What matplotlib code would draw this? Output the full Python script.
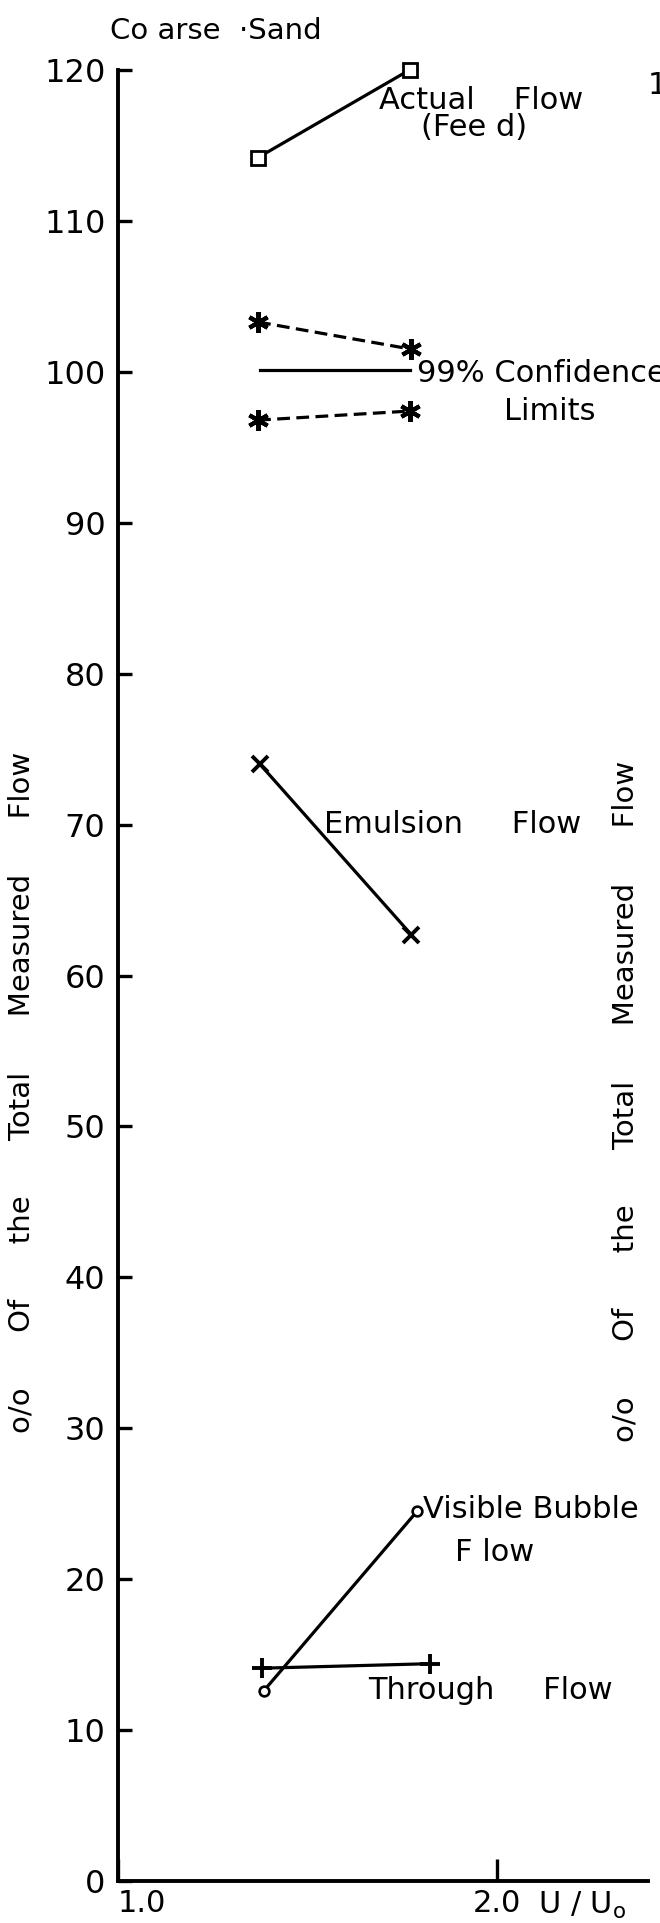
import matplotlib
matplotlib.use("Agg")
import matplotlib.pyplot as plt

plt.rcParams['font.family'] = ['DejaVu Sans']

# ---- data ----
actual_x = [1.37, 1.77]
actual_y = [114.2, 120.0]

cl_upper_x = [1.37, 1.775]
cl_upper_y = [103.3, 101.5]

mean_x = [1.375, 1.77]
mean_y = [100.1, 100.1]

cl_lower_x = [1.37, 1.77]
cl_lower_y = [96.8, 97.4]

emulsion_x = [1.375, 1.775]
emulsion_y = [74.0, 62.7]

bubble_x = [1.385, 1.79]
bubble_y = [12.6, 24.5]

through_x = [1.38, 1.825]
through_y = [14.1, 14.4]

y_ticks = [0, 10, 20, 30, 40, 50, 60, 70, 80, 90, 100, 110, 120]
y_tick_labels = ["0", "10", "20", "30", "40", "50", "60", "70", "80", "90", "100", "110", "120"]
x_ticks = [1.0, 2.0]
x_tick_labels = ["1.0", "2.0"]

W, H = 660, 1923
fig = plt.figure(figsize=(W / 100, H / 100), dpi=100)
ax = fig.add_axes([118 / W, 42 / H, 530 / W, 1811 / H])

lw = 2.3
ax.plot(actual_x, actual_y, color='black', lw=lw, marker='s', ms=9.5,
        mfc='white', mec='black', mew=2.0, clip_on=False)
ax.plot(cl_upper_x, cl_upper_y, color='black', lw=lw, ls=(0, (4, 2)),
        marker=(6, 2, 0), ms=15, mew=3.0, clip_on=False)
ax.plot(mean_x, mean_y, color='black', lw=lw)
ax.plot(cl_lower_x, cl_lower_y, color='black', lw=lw, ls=(0, (4, 2)),
        marker=(6, 2, 0), ms=15, mew=3.0, clip_on=False)
ax.plot(emulsion_x, emulsion_y, color='black', lw=lw, marker='x', ms=11,
        mew=2.8)
ax.plot(bubble_x, bubble_y, color='black', lw=lw, marker='o', ms=7,
        mfc='white', mec='black', mew=1.9)
ax.plot(through_x, through_y, color='black', lw=lw, marker='+', ms=15,
        mew=2.8)

ax.set_xlim(1.0, 2.4)
ax.set_ylim(0, 120)

for s in ['top', 'right']:
    ax.spines[s].set_visible(False)
for s in ['left', 'bottom']:
    ax.spines[s].set_linewidth(2.8)

ax.set_yticks(y_ticks)
ax.set_yticklabels(y_tick_labels)
ax.set_xticks(x_ticks)
ax.set_xticklabels(x_tick_labels)
ax.tick_params(axis='y', direction='in', length=10, width=2.4, pad=9,
               labelsize=23)
ax.tick_params(axis='x', direction='in', length=16, width=2.4, pad=6,
               labelsize=22)
ax.get_xticklabels()[0].set_ha('left')

txt = dict(fontsize=22, color='black', clip_on=False)
ax.text(1.69, 118.0, "Actual    Flow", va='center', ha='left', **txt)
ax.text(1.80, 116.2, "(Fee d)", va='center', ha='left', **txt)
ax.text(1.79, 99.9, "99% Confidence", va='center', ha='left', **txt)
ax.text(2.02, 97.4, "Limits", va='center', ha='left', **txt)
ax.text(1.545, 70.0, "Emulsion     Flow", va='center', ha='left', **txt)
ax.text(1.805, 24.6, "Visible Bubble", va='center', ha='left', **txt)
ax.text(1.89, 21.8, "F low", va='center', ha='left', **txt)
ax.text(1.66, 12.6, "Through     Flow", va='center', ha='left', **txt)
ax.text(2.11, -1.6, "U / U$_\\mathregular{o}$", va='center', ha='left',
        fontsize=22, clip_on=False)

fig.text(110 / W, 1 - 31 / H, "Co arse  \u00b7Sand", fontsize=21,
         va='center', ha='left')

ylabel = "o/o      Of      the      Total      Measured      Flow"
fig.text(22 / W, 1 - 1092 / H, ylabel, rotation=90, fontsize=21,
         va='center', ha='center')
fig.text(626 / W, 1 - 1101 / H, ylabel, rotation=90, fontsize=21,
         va='center', ha='center')

# fragment of the neighbouring chart at the right edge
fig.text(648 / W, 1 - 86 / H, "120", fontsize=22, va='center', ha='left')

fig.savefig("out.png", dpi=100, facecolor='white')
